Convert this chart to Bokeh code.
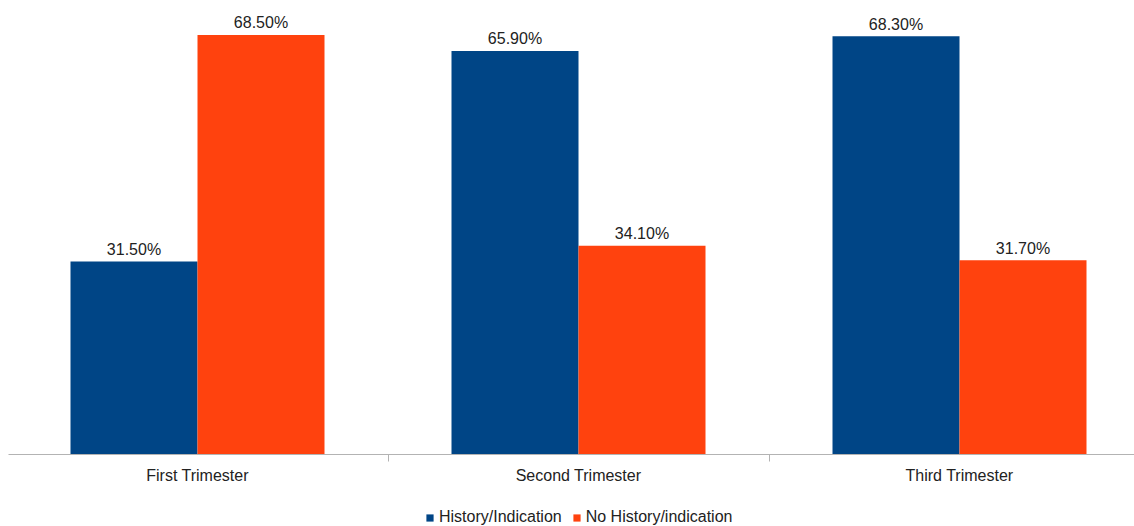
from bokeh.plotting import figure
from bokeh.layouts import column
from bokeh.models import Range1d, FixedTicker, Legend, LegendItem, ColumnDataSource
from bokeh.core.properties import value
from bokeh.embed import file_html
from bokeh.resources import INLINE

categories = ["First Trimester", "Second Trimester", "Third Trimester"]
history = [31.5, 65.9, 68.3]
no_history = [68.5, 34.1, 31.7]
series_names = ["History/Indication", "No History/indication"]
colors = ["#004586", "#ff420e"]

FONT = "Liberation Sans"
FS = "16px"
centers = [i + 0.5 for i in range(len(categories))]
bw = 1.0 / 3.0

p = figure(output_backend="svg", toolbar_location=None,
           frame_width=1126, frame_height=446,
           x_range=Range1d(0.00394, 2.9593), y_range=Range1d(0, 72.82),
           min_border=0, min_border_left=8, min_border_right=0, min_border_top=8,
           min_border_bottom=36)
p.outline_line_color = None
p.grid.visible = False
p.yaxis.visible = False
p.background_fill_color = "white"
p.border_fill_color = "white"

for vals, off, col in [(history, -bw / 2, colors[0]), (no_history, bw / 2, colors[1])]:
    src = ColumnDataSource(dict(x=[c + off for c in centers], top=vals,
                                lab=["%.2f%%" % v for v in vals]))
    p.vbar(x="x", top="top", width=bw, source=src, fill_color=col, line_color=None)
    p.text(x="x", y="top", text="lab", source=src, text_align="center",
           text_baseline="alphabetic", y_offset=-12, text_font=value(FONT),
           text_font_size=FS, text_color="#222222")

ax = p.xaxis[0]
ax.ticker = FixedTicker(ticks=centers, minor_ticks=[1, 2])
ax.major_label_overrides = {c: n for c, n in zip(centers, categories)}
ax.major_tick_out = 0
ax.major_tick_in = 0
ax.minor_tick_out = 7
ax.minor_tick_in = 0
ax.minor_tick_line_color = "#b3b3b3"
ax.axis_line_color = "#b3b3b3"
ax.axis_line_width = 1
ax.major_label_standoff = 5
ax.major_label_text_font = FONT
ax.major_label_text_font_size = FS
ax.major_label_text_color = "#222222"

# legend strip below the chart
lg = figure(output_backend="svg", toolbar_location=None, width=1134, height=36,
            x_range=Range1d(0, 1), y_range=Range1d(0, 1), min_border=0)
lg.outline_line_color = None
lg.grid.visible = False
lg.axis.visible = False
lg.border_fill_color = "white"
dummy = []
for col in colors:
    dummy.append(lg.vbar(x=[-10], top=[0], bottom=[0], width=0.1,
                         fill_color=col, line_color=None))
legend = Legend(items=[LegendItem(label=n, renderers=[r]) for n, r in zip(series_names, dummy)],
                orientation="horizontal", location=(417, 0),
                label_text_font=FONT, label_text_font_size=FS,
                label_text_color="#222222", glyph_width=9, glyph_height=9,
                label_standoff=5, spacing=10, padding=0, margin=0,
                border_line_color=None, background_fill_alpha=0)
lg.add_layout(legend, "center")

layout = column(p, lg, spacing=0)
open("out.html", "w").write(file_html(layout, INLINE))
